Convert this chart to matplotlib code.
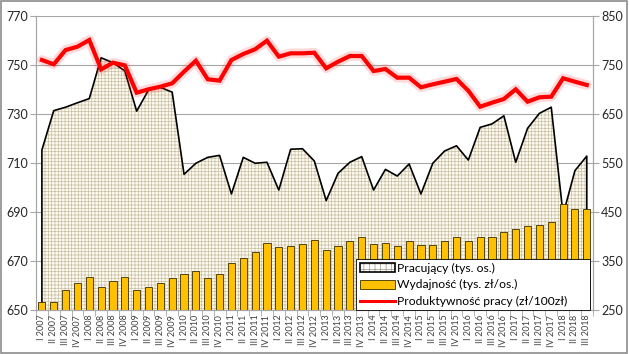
import matplotlib
matplotlib.use('Agg')
import matplotlib.pyplot as plt
from matplotlib.patches import Patch, Rectangle
from matplotlib.lines import Line2D
from matplotlib.legend_handler import HandlerTuple
import numpy as np

plt.rcParams['font.family'] = ['Lato', 'DejaVu Sans']
plt.rcParams['hatch.linewidth'] = 0.5
plt.rcParams['hatch.color'] = '#C9BFA3'

# quarters I 2007 .. III 2018
quarters = ['I', 'II', 'III', 'IV']
labels = [f'{q} {y}' for y in range(2007, 2019) for q in quarters][:47]

# Pracujący (tys. os.) - left axis
pracujacy = [715.3, 731.3, 732.7, 734.5, 736.2, 752.8, 750.8, 747.5,
             731.1, 739.7, 740.8, 738.8, 705.4, 709.9, 712.3, 713.1,
             697.4, 712.3, 709.9, 710.3, 699.0, 715.6, 715.8, 710.8,
             694.7, 705.8, 710.3, 712.6, 699.0, 707.4, 704.7, 709.6,
             697.4, 709.9, 714.9, 717.0, 711.2, 724.5, 725.9, 729.2,
             710.3, 724.1, 730.2, 732.7, 689.0, 706.9, 712.8]

# Wydajność (tys. zł/os.) - right axis
wydajnosc = [268, 268, 292.6, 305, 317.5, 297.2, 310.7, 318.8,
             292.6, 298.5, 306.6, 316.1, 324.3, 329.8, 316.1, 324.3,
             347.3, 356.8, 369, 386.7, 379.8, 381.9, 384.6, 394.1,
             373.1, 380.5, 392, 400.1, 384.6, 388, 381.9, 390.7,
             382.6, 384, 392, 400.1, 390.7, 400.1, 398.8, 409,
             416.4, 422.5, 424.5, 429.4, 467.3, 457.2, 457.2]

# Produktywność pracy (zł/100zł) - right axis
produktywnosc = [759.5, 750.7, 779.8, 786.5, 800.2, 740.6, 754.0, 748.6,
                 693.0, 699.9, 705.2, 712.1, 735.8, 758.1, 720.3, 717.5,
                 759.5, 771.7, 781.3, 798.8, 766.3, 773.1, 773.1, 774.3,
                 742.6, 756.0, 767.6, 767.6, 737.1, 741.2, 723.5, 723.5,
                 704.0, 710.0, 715.4, 720.9, 697.0, 664.5, 672.7, 680.2,
                 699.9, 674.7, 683.6, 684.9, 722.3, 715.4, 708.7]

x = np.arange(len(labels)) + 0.5
grid_col = '#A6A6A6'

fig = plt.figure(figsize=(6.29, 3.54), dpi=100)
ax = fig.add_axes([0.0572, 0.1229, 0.8851, 0.8333])
ax2 = ax.twinx()

# area: Pracujący
ax.fill_between(x, 650, pracujacy, facecolor='#FCFAF0', hatch='+++++',
                edgecolor='#C9BFA3', linewidth=0, zorder=2)
ax.plot(np.r_[x[0], x, x[-1]], np.r_[650, pracujacy, 650],
        color='black', lw=1.2, zorder=3)

ax.set_xlim(0, len(labels))
ax.set_ylim(650, 770)
ax.set_yticks(np.arange(650, 771, 20))
ax.yaxis.grid(True, color=grid_col, lw=0.8)
ax.set_axisbelow(True)

# bars and red line on right axis
ax2.bar(x, wydajnosc, width=0.6, color='#FFC000', edgecolor='#3A2E00',
        linewidth=0.6, zorder=2)
ax2.plot(x, produktywnosc, color='#FF3030', lw=7, alpha=0.18,
         solid_capstyle='round', zorder=3)
ax2.plot(x, produktywnosc, color='#FF0000', lw=3, solid_joinstyle='miter',
         zorder=4)
ax2.set_ylim(250, 850)
ax2.set_yticks(np.arange(250, 851, 100))

# x ticks
ax.set_xticks(x)
ax.set_xticklabels(labels, rotation=90, fontsize=6.5)
ax.set_xticks(np.arange(len(labels) + 1), minor=True)
ax.tick_params(axis='x', which='major', length=0, pad=3, colors='#404040')
ax.tick_params(axis='x', which='minor', length=4, color=grid_col)
ax.tick_params(axis='y', length=4, color=grid_col, labelsize=9,
               labelcolor='#262626', pad=2)
ax2.tick_params(axis='y', length=4, color=grid_col, labelsize=9,
                labelcolor='#262626', pad=2)

for a in (ax, ax2):
    a.spines['top'].set_visible(False)
    for s in ('left', 'right', 'bottom'):
        a.spines[s].set_color(grid_col)
        a.spines[s].set_linewidth(0.8)

area_handle = (Patch(facecolor='white', edgecolor='#9E9682', hatch='+++', lw=0),
               Patch(fill=False, edgecolor='black', lw=1.2))
handles = [area_handle,
           Patch(facecolor='#FFC000', edgecolor='#3A2E00', lw=0.6),
           Line2D([], [], color='#FF0000', lw=2.2)]
names = ['Pracujący (tys. os.)', 'Wydajność (tys. zł/os.)',
         'Produktywność pracy (zł/100zł)']
leg = ax2.legend(handles, names, loc='lower left',
                 bbox_to_anchor=(0.575, 0.0, 0.421, 0.192), mode='expand',
                 handler_map={tuple: HandlerTuple(ndivide=1, pad=0)},
                 fontsize=8.7, frameon=True, fancybox=False, framealpha=1,
                 edgecolor='black', handlelength=2.9, handleheight=0.75,
                 handletextpad=0.2, borderpad=0.3, labelspacing=0.45,
                 borderaxespad=0)
leg.get_frame().set_linewidth(0.6)
leg.set_zorder(10)

fig.patches.append(Rectangle((0.002, 0.003), 0.995, 0.993, transform=fig.transFigure,
                             fill=False, edgecolor='#8C8C8C', lw=1.2))

fig.savefig('out.png', dpi=100)
